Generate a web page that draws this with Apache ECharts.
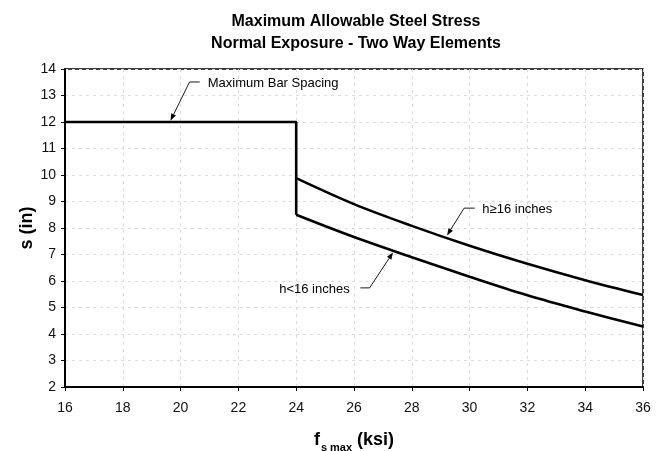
<!DOCTYPE html>
<html>
<head>
<meta charset="utf-8">
<title>Maximum Allowable Steel Stress</title>
<script src="https://cdn.jsdelivr.net/npm/echarts@6/dist/echarts.min.js"></script>
<style>
  html, body { margin: 0; padding: 0; background: #fff; }
  #chart { width: 660px; height: 451px; }
</style>
</head>
<body>
<div id="chart"></div>
<script>
// Steel stress (ksi) and bar spacing (in)
const capStress = [16, 24, 24];
const capSpacing = [12, 12, 8.5];

const curveStress = [24, 26, 28, 30, 32, 34, 36];
const spacingThick = [9.88, 8.9, 8.08, 7.33, 6.65, 6.03, 5.47];   // h >= 16 inches
const spacingThin = [8.5, 7.66, 6.9, 6.16, 5.46, 4.85, 4.28];     // h < 16 inches

const xTicks = [16, 18, 20, 22, 24, 26, 28, 30, 32, 34, 36];
const yTicks = [2, 3, 4, 5, 6, 7, 8, 9, 10, 11, 12, 13, 14];

// Callouts: text anchor and leader path, in data units (last point = arrow tip)
const notes = [
  { text: 'Maximum Bar Spacing', anchor: [20.94, 13.47], align: 'left',
    path: [[20.66, 13.51], [20.31, 13.51], [19.65, 12.05]] },
  { text: 'h<16 inches', anchor: [25.85, 5.68], align: 'right',
    path: [[26.22, 5.74], [26.54, 5.74], [27.35, 7.08]] },
  { text: 'h≥16 inches', anchor: [30.44, 8.7], align: 'left',
    path: [[30.18, 8.75], [29.81, 8.75], [29.22, 7.72]] }
];

const zip = (xs, ys) => xs.map((x, i) => [x, ys[i]]);
const FONT = 'Arial, "Liberation Sans", Helvetica, sans-serif';

const chart = echarts.init(document.getElementById('chart'), null, { renderer: 'canvas' });

const lineStyle = { color: '#000', width: 2.6 };
const gridLine = { color: '#dcdcdc', width: 1, type: [3, 4] };

chart.setOption({
  animation: false,
  backgroundColor: '#fff',
  title: {
    text: 'Maximum Allowable Steel Stress\nNormal Exposure - Two Way Elements',
    left: 351, top: 6, textAlign: 'center',
    textStyle: { fontFamily: FONT, fontSize: 16, fontWeight: 'bold', color: '#000', lineHeight: 22 }
  },
  grid: {
    left: 65, right: 17, top: 69, bottom: 64,
    outerBoundsMode: 'none', containLabel: false,
    show: true, borderColor: '#000', borderWidth: 1.5, backgroundColor: 'transparent'
  },
  xAxis: {
    type: 'value', min: xTicks[0], max: xTicks[xTicks.length - 1], interval: 2,
    name: '{b|f}{s|s max}{b| (ksi)}',
    nameLocation: 'middle', nameGap: 38,
    nameTextStyle: {
      rich: {
        b: { fontFamily: FONT, fontSize: 18, fontWeight: 'bold', color: '#000', lineHeight: 24, verticalAlign: 'bottom' },
        s: { fontFamily: FONT, fontSize: 11, fontWeight: 'bold', color: '#000', lineHeight: 24, verticalAlign: 'bottom', padding: [0, 0, -4, 1] }
      }
    },
    axisLine: { show: true, onZero: false, lineStyle: { color: '#000', width: 2 } },
    axisTick: { show: true, length: 4, lineStyle: { color: '#000', width: 1 } },
    axisLabel: { fontFamily: FONT, fontSize: 14, color: '#111', margin: 14 },
    splitLine: { show: true, lineStyle: gridLine }
  },
  yAxis: {
    type: 'value', min: yTicks[0], max: yTicks[yTicks.length - 1], interval: 1,
    name: 's (in)', nameLocation: 'middle', nameGap: 29, nameRotate: 90,
    nameMoveOverlap: false,
    nameTextStyle: { fontFamily: FONT, fontSize: 18, fontWeight: 'bold', color: '#000' },
    axisLine: { show: true, onZero: false, lineStyle: { color: '#000', width: 2 } },
    axisTick: { show: true, length: 4, lineStyle: { color: '#000', width: 1 } },
    axisLabel: { fontFamily: FONT, fontSize: 14, color: '#111', margin: 9 },
    splitLine: { show: true, lineStyle: gridLine }
  },
  series: [
    { name: 'Maximum Bar Spacing', type: 'line', data: zip(capStress, capSpacing),
      showSymbol: false, lineStyle, z: 5 },
    { name: 'h≥16 inches', type: 'line', data: zip(curveStress, spacingThick),
      showSymbol: false, smooth: 0.35, lineStyle, z: 5 },
    { name: 'h<16 inches', type: 'line', data: zip(curveStress, spacingThin),
      showSymbol: false, smooth: 0.35, lineStyle, z: 5 }
  ]
});

// Callout text, leader lines and arrowheads placed through the axes
function px(p) { return chart.convertToPixel({ gridIndex: 0 }, p); }

const graphics = [];
notes.forEach(n => {
  const pts = n.path.map(px);
  const a = px(n.anchor);
  graphics.push({
    type: 'text', z: 20,
    style: { text: n.text, x: a[0], y: a[1], align: n.align, verticalAlign: 'middle',
             font: '13px ' + FONT, fill: '#000' }
  });
  const tip = pts[pts.length - 1];
  const prev = pts[pts.length - 2];
  const dx = tip[0] - prev[0], dy = tip[1] - prev[1];
  const len = Math.hypot(dx, dy);
  const ux = dx / len, uy = dy / len;
  const head = 7, half = 2.6;
  const base = [tip[0] - ux * head, tip[1] - uy * head];
  const linePts = pts.slice(0, -1).concat([base]);
  graphics.push({
    type: 'polyline', z: 20,
    shape: { points: linePts },
    style: { stroke: '#000', lineWidth: 0.9, fill: null }
  });
  graphics.push({
    type: 'polygon', z: 20,
    shape: { points: [tip, [base[0] - uy * half, base[1] + ux * half], [base[0] + uy * half, base[1] - ux * half]] },
    style: { fill: '#000', stroke: null }
  });
});
chart.setOption({ graphic: graphics });
</script>
</body>
</html>
